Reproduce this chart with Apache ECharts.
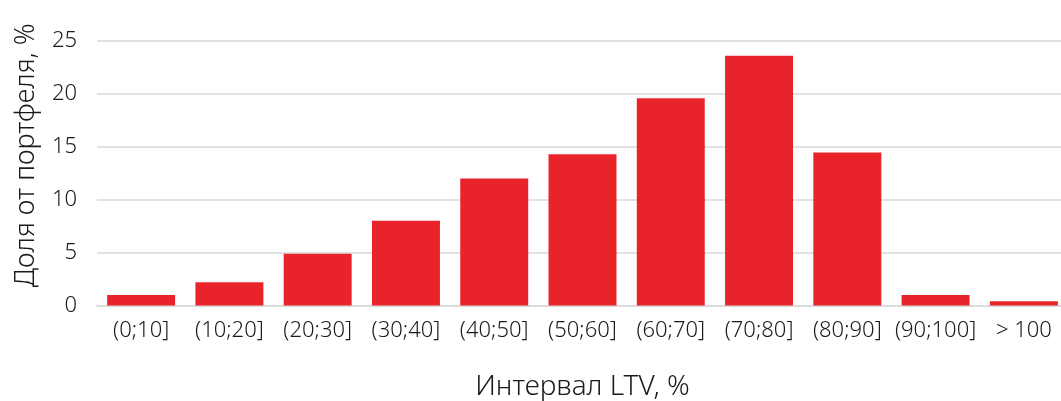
<!DOCTYPE html>
<html><head><meta charset="utf-8">
<script src="https://cdn.jsdelivr.net/npm/echarts@6/dist/echarts.min.js"></script>
<style>html,body{margin:0;padding:0;background:#fff}#c{width:1061px;height:401px}</style>
</head><body><div id="c"></div>
<script>
const categories = ['(0;10]','(10;20]','(20;30]','(30;40]','(40;50]','(50;60]','(60;70]','(70;80]','(80;90]','(90;100]','> 100'];
const shares = [1.0, 2.2, 4.9, 8.0, 12.0, 14.3, 19.6, 23.6, 14.45, 1.0, 0.4];
const yTicks = [0, 5, 10, 15, 20, 25];

const chart = echarts.init(document.getElementById('c'));
const font = '"Noto Sans", sans-serif';
chart.setOption({
  animation: false,
  grid: {left: 97, top: 41, width: 971, height: 264.5, outerBoundsMode: 'none', containLabel: false},
  xAxis: {
    type: 'category', data: categories,
    name: 'Интервал LTV, %', nameLocation: 'middle', nameGap: 68,
    nameTextStyle: {fontFamily: font, fontSize: 28, fontWeight: 300, color: '#1a1a1a'},
    axisLine: {lineStyle: {color: '#D9D9D9', width: 1.5}},
    axisTick: {show: false},
    axisLabel: {fontFamily: font, fontSize: 22, fontWeight: 300, color: '#1a1a1a', margin: 14, interval: 0}
  },
  yAxis: {
    type: 'value', min: yTicks[0], max: yTicks[yTicks.length-1], interval: 5,
    name: 'Доля от портфеля, %', nameLocation: 'middle', nameGap: 57,
    nameTextStyle: {fontFamily: font, fontSize: 27, fontWeight: 300, color: '#1a1a1a', padding: [0,0,0,36]},
    axisLine: {show: false}, axisTick: {show: false},
    axisLabel: {fontFamily: font, fontSize: 22, fontWeight: 300, color: '#1a1a1a', margin: 20},
    splitLine: {lineStyle: {color: '#D9D9D9', width: 1.5}}
  },
  series: [{
    type: 'bar', data: shares, barCategoryGap: '23%',
    itemStyle: {color: '#E8242A'}
  }]
});
</script></body></html>
